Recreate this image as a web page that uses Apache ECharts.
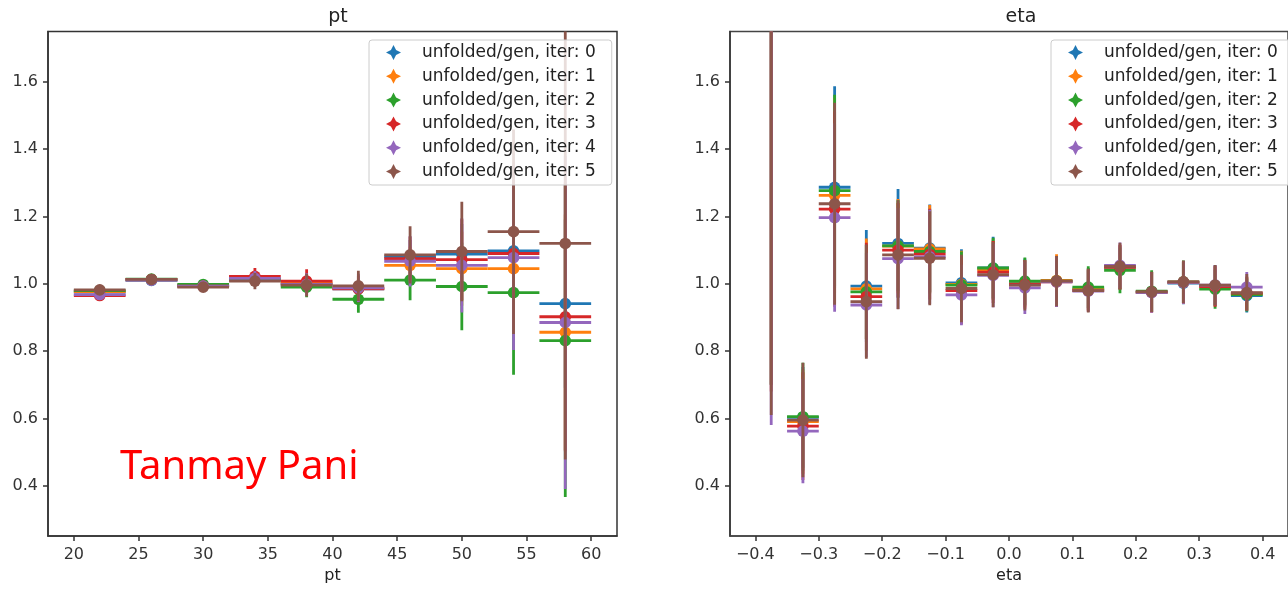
<!DOCTYPE html>
<html>
<head>
<meta charset="utf-8">
<script src="https://cdn.jsdelivr.net/npm/echarts@6/dist/echarts.min.js"></script>
<style>
  html, body { margin: 0; padding: 0; background: #fff; }
  #chart { width: 1288px; height: 589px; }
</style>
</head>
<body>
<div id="chart"></div>
<script>
// ---------------- data ----------------
const seriesNames = [
  'unfolded/gen, iter: 0', 'unfolded/gen, iter: 1', 'unfolded/gen, iter: 2',
  'unfolded/gen, iter: 3', 'unfolded/gen, iter: 4', 'unfolded/gen, iter: 5'
];

// pt panel
const ptBins = [22, 26, 30, 34, 38, 42, 46, 50, 54, 58];
const ptHalfWidth = 2;
const ptVal0 = [0.975, 1.010, 0.995, 1.012, 1.000, 0.985, 1.080, 1.088, 1.098, 0.941];
const ptVal1 = [0.977, 1.012, 0.994, 1.014, 1.002, 0.986, 1.055, 1.045, 1.045, 0.856];
const ptVal2 = [0.980, 1.014, 0.998, 1.012, 0.990, 0.954, 1.011, 0.992, 0.974, 0.831];
const ptVal3 = [0.965, 1.013, 0.993, 1.022, 1.008, 0.985, 1.075, 1.072, 1.090, 0.902];
const ptVal4 = [0.968, 1.011, 0.993, 1.016, 0.998, 0.988, 1.067, 1.055, 1.078, 0.885];
const ptVal5 = [0.982, 1.013, 0.990, 1.008, 0.996, 0.994, 1.086, 1.096, 1.155, 1.120];
const ptErr0 = [0.010, 0.008, 0.008, 0.015, 0.020, 0.025, 0.050, 0.090, 0.150, 0.250];
const ptErr1 = [0.011, 0.009, 0.009, 0.017, 0.025, 0.030, 0.055, 0.110, 0.200, 0.350];
const ptErr2 = [0.012, 0.010, 0.010, 0.020, 0.030, 0.040, 0.060, 0.130, 0.244, 0.465];
const ptErr3 = [0.013, 0.011, 0.011, 0.025, 0.035, 0.040, 0.065, 0.120, 0.220, 0.400];
const ptErr4 = [0.014, 0.012, 0.012, 0.022, 0.033, 0.042, 0.075, 0.140, 0.275, 0.495];
const ptErr5 = [0.015, 0.013, 0.012, 0.024, 0.034, 0.045, 0.085, 0.148, 0.304, 0.642];

// eta panel
const etaBins = [-0.375, -0.325, -0.275, -0.225, -0.175, -0.125, -0.075, -0.025,
                 0.025, 0.075, 0.125, 0.175, 0.225, 0.275, 0.325, 0.375];
const etaHalfWidth = 0.025;
const etaVal0 = [2.20, 0.603, 1.287, 0.993, 1.120, 1.106, 1.003, 1.047, 1.005, 1.008, 0.985, 1.048, 0.976, 1.002, 0.995, 0.965];
const etaVal1 = [2.25, 0.590, 1.263, 0.985, 1.112, 1.104, 0.998, 1.042, 1.000, 1.010, 0.983, 1.050, 0.975, 1.004, 0.993, 0.970];
const etaVal2 = [2.30, 0.605, 1.277, 0.976, 1.113, 1.096, 0.996, 1.047, 1.008, 1.008, 0.990, 1.040, 0.978, 1.006, 0.984, 0.968];
const etaVal3 = [2.28, 0.577, 1.222, 0.962, 1.100, 1.088, 0.980, 1.035, 0.998, 1.006, 0.980, 1.050, 0.975, 1.005, 0.992, 0.972];
const etaVal4 = [2.25, 0.562, 1.197, 0.937, 1.075, 1.080, 0.967, 1.025, 0.988, 1.006, 0.978, 1.055, 0.974, 1.004, 0.996, 0.990];
const etaVal5 = [2.30, 0.595, 1.238, 0.947, 1.086, 1.076, 0.986, 1.027, 0.996, 1.008, 0.980, 1.052, 0.976, 1.006, 0.996, 0.974];
const etaErr0 = [1.50, 0.150, 0.300, 0.167, 0.162, 0.130, 0.100, 0.093, 0.070, 0.075, 0.062, 0.065, 0.060, 0.063, 0.060, 0.050];
const etaErr1 = [1.55, 0.155, 0.290, 0.150, 0.140, 0.130, 0.100, 0.090, 0.070, 0.078, 0.062, 0.066, 0.060, 0.063, 0.060, 0.050];
const etaErr2 = [1.60, 0.160, 0.285, 0.140, 0.135, 0.125, 0.100, 0.090, 0.070, 0.075, 0.062, 0.068, 0.062, 0.063, 0.058, 0.050];
const etaErr3 = [1.60, 0.160, 0.290, 0.160, 0.140, 0.135, 0.100, 0.092, 0.072, 0.075, 0.062, 0.066, 0.060, 0.063, 0.060, 0.050];
const etaErr4 = [1.67, 0.155, 0.280, 0.155, 0.150, 0.140, 0.090, 0.095, 0.078, 0.075, 0.062, 0.068, 0.060, 0.063, 0.060, 0.045];
const etaErr5 = [1.69, 0.170, 0.300, 0.170, 0.162, 0.140, 0.100, 0.097, 0.075, 0.075, 0.065, 0.070, 0.060, 0.063, 0.060, 0.055];

// tick labels
const yTicks = [0.4, 0.6, 0.8, 1.0, 1.2, 1.4, 1.6];
const ptTicks = [20, 25, 30, 35, 40, 45, 50, 55, 60];
const etaTicks = [-0.4, -0.3, -0.2, -0.1, 0.0, 0.1, 0.2, 0.3, 0.4];

const titles = ['pt', 'eta'];
const watermark = 'Tanmay Pani';

// ---------------- chart ----------------
const colors = ['#1f77b4', '#ff7f0e', '#2ca02c', '#d62728', '#9467bd', '#8c564b'];
const ptVals = [ptVal0, ptVal1, ptVal2, ptVal3, ptVal4, ptVal5];
const ptErrs = [ptErr0, ptErr1, ptErr2, ptErr3, ptErr4, ptErr5];
const etaVals = [etaVal0, etaVal1, etaVal2, etaVal3, etaVal4, etaVal5];
const etaErrs = [etaErr0, etaErr1, etaErr2, etaErr3, etaErr4, etaErr5];

const FONT = 'DejaVu Sans';
const starIcon = 'path://M0,-10 L3.4,-3.4 L10,0 L3.4,3.4 L0,10 L-3.4,3.4 L-10,0 L-3.4,-3.4 Z';

function renderErr(params, api) {
  const x = api.value(0), y = api.value(1), e = api.value(2), hw = api.value(3);
  const c = api.coord([x, y]);
  const l = api.coord([x - hw, y]);
  const r = api.coord([x + hw, y]);
  const t = api.coord([x, y + e]);
  const b = api.coord([x, y - e]);
  const color = api.visual('color');
  return {
    type: 'group',
    children: [
      { type: 'line', shape: { x1: l[0], y1: c[1], x2: r[0], y2: c[1] }, style: { stroke: color, lineWidth: 2.8 } },
      { type: 'line', shape: { x1: c[0], y1: t[1], x2: c[0], y2: b[1] }, style: { stroke: color, lineWidth: 2.8 } },
      { type: 'circle', shape: { cx: c[0], cy: c[1], r: 5.8 }, style: { fill: color } }
    ]
  };
}

const series = [];
for (let k = 0; k < 6; k++) {
  series.push({
    type: 'custom', name: seriesNames[k], xAxisIndex: 0, yAxisIndex: 0,
    clip: true, itemStyle: { color: colors[k] },
    encode: { x: 0, y: 1 },
    renderItem: renderErr,
    data: ptBins.map((b, i) => [b, ptVals[k][i], ptErrs[k][i], ptHalfWidth])
  });
}
for (let k = 0; k < 6; k++) {
  series.push({
    type: 'custom', name: seriesNames[k], xAxisIndex: 1, yAxisIndex: 1,
    clip: true, itemStyle: { color: colors[k] },
    encode: { x: 0, y: 1 },
    renderItem: renderErr,
    data: etaBins.map((b, i) => [b, etaVals[k][i], etaErrs[k][i], etaHalfWidth])
  });
}

const axisLineStyle = { color: '#333', width: 1.5 };
const labelStyle = { fontFamily: FONT, fontSize: 16, color: '#333' };

function yAxis(gridIndex) {
  return {
    type: 'value', gridIndex, min: 0.25, max: 1.75,
    axisLine: { show: true, onZero: false, lineStyle: axisLineStyle },
    axisTick: { show: true, length: 5, customValues: yTicks, lineStyle: axisLineStyle },
    axisLabel: Object.assign({ customValues: yTicks, margin: 10, formatter: v => v.toFixed(1) }, labelStyle),
    splitLine: { show: false }
  };
}

function legend(left) {
  return {
    orient: 'vertical', left: left, top: 40,
    data: seriesNames.map(n => ({ name: n, icon: starIcon })),
    itemWidth: 15, itemHeight: 15, itemGap: 6.8,
    padding: [4, 16, 5, 17],
    backgroundColor: 'rgba(255,255,255,0.8)', borderColor: '#cccccc', borderWidth: 1, borderRadius: 3,
    selectedMode: false,
    textStyle: { fontFamily: FONT, fontSize: 17, color: '#222', padding: [0, 0, 0, 16] }
  };
}

const option = {
  animation: false,
  backgroundColor: '#ffffff',
  title: [
    { text: titles[0], left: 333, top: 3, textAlign: 'center',
      textStyle: { fontFamily: FONT, fontSize: 19, fontWeight: 'normal', color: '#222' } },
    { text: titles[1], left: 1016, top: 3, textAlign: 'center',
      textStyle: { fontFamily: FONT, fontSize: 19, fontWeight: 'normal', color: '#222' } }
  ],
  grid: [
    { left: 48, top: 31.5, width: 569, height: 510, show: true, borderColor: '#333', borderWidth: 1.5, backgroundColor: 'transparent' },
    { left: 730, top: 31.5, width: 572, height: 510, show: true, borderColor: '#444', borderWidth: 1.5, backgroundColor: 'transparent' }
  ],
  xAxis: [
    {
      type: 'value', gridIndex: 0, min: 18, max: 62,
      name: 'pt', nameLocation: 'middle', nameGap: 30,
      nameTextStyle: { fontFamily: FONT, fontSize: 16, color: '#222' },
      axisLine: { show: true, onZero: false, lineStyle: axisLineStyle },
      axisTick: { show: true, length: 5, customValues: ptTicks, lineStyle: axisLineStyle },
      axisLabel: Object.assign({ customValues: ptTicks, margin: 11, formatter: v => String(v) }, labelStyle),
      splitLine: { show: false }
    },
    {
      type: 'value', gridIndex: 1, min: -0.44, max: 0.44,
      name: 'eta', nameLocation: 'middle', nameGap: 30,
      nameTextStyle: { fontFamily: FONT, fontSize: 16, color: '#222' },
      axisLine: { show: true, onZero: false, lineStyle: { color: '#444', width: 1.5 } },
      axisTick: { show: true, length: 5, customValues: etaTicks, lineStyle: axisLineStyle },
      axisLabel: Object.assign({ customValues: etaTicks, margin: 11,
        formatter: v => (v < -1e-9 ? '\u2212' : '') + Math.abs(v).toFixed(1) }, labelStyle),
      splitLine: { show: false }
    }
  ],
  yAxis: [yAxis(0), yAxis(1)],
  legend: [legend(369), legend(1051)],
  series: series,
  graphic: [
    {
      type: 'text', left: 120, top: 448, z: 100,
      style: { text: watermark, fill: '#ff0000', font: '40px "Noto Sans"' }
    }
  ]
};

const chart = echarts.init(document.getElementById('chart'), null, { renderer: 'canvas' });
chart.setOption(option);
</script>
</body>
</html>
